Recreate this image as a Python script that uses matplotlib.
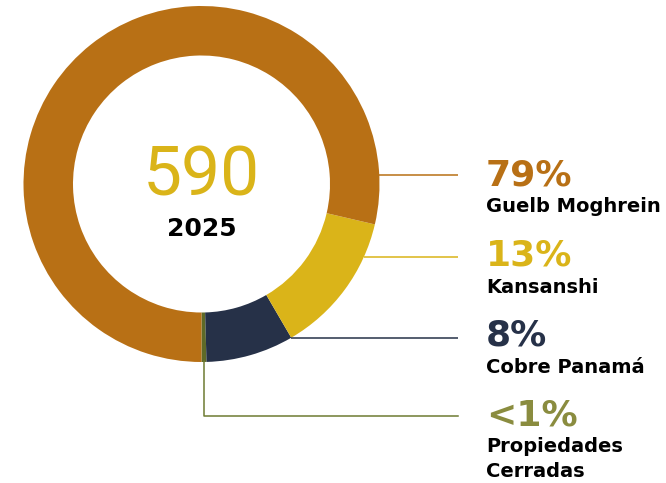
import matplotlib
matplotlib.use("Agg")
import matplotlib.pyplot as plt
import numpy as np

# Data
categories = ["Guelb Moghrein", "Kansanshi", "Cobre Panamá", "Propiedades\nCerradas"]
pct_labels = ["79%", "13%", "8%", "<1%"]
values = [79, 13, 8, 0.45]
total_label = "590"
year_label = "2025"

colors = ["#B87015", "#DAB419", "#263148", "#5E6A28"]
text_colors = ["#B87015", "#DAB419", "#263148", "#8A8C3F"]
line_colors = ["#B87015", "#DAB419", "#263148", "#6E7A32"]

W, H = 666, 483
fig = plt.figure(figsize=(W / 100, H / 100), dpi=100)
ax = fig.add_axes([0, 0, 1, 1])

cx, cy_pix = 201.5, 184
R, r_in = 178, 128.5
cy = H - cy_pix

# pie drawn in order: olive, navy, yellow, brown counterclockwise from bottom
order = [3, 2, 1, 0]
ax.pie([values[i] for i in order], colors=[colors[i] for i in order],
       radius=R, center=(cx, cy), startangle=-90, counterclock=True,
       wedgeprops=dict(width=R - r_in, edgecolor="none", linewidth=0),
       frame=True)

ax.set_xlim(0, W)
ax.set_ylim(0, H)
ax.set_aspect("equal")
ax.axis("off")

# center text
ax.text(cx, H - 196, total_label, ha="center", va="baseline", fontsize=50,
        color="#DAB419", family="Roboto", fontweight="normal")
ax.text(cx, H - 236, year_label, ha="center", va="baseline", fontsize=18,
        color="black", family="DejaVu Sans", fontweight="bold")

# leader lines
x_end = 458
line_y = [175, 257, 338]
for yl, c in zip(line_y, line_colors[:3]):
    dy = yl - cy_pix
    xs = cx + np.sqrt(R ** 2 - dy ** 2)
    ax.plot([xs, x_end], [H - yl, H - yl], color=c, lw=1.1, solid_capstyle="butt")
# olive elbow
ox = 204
ax.plot([ox, ox, x_end], [H - (cy_pix + R - 1), H - 416, H - 416],
        color=line_colors[3], lw=1.1)

# labels
x_txt = 486
pct_base = [185, 266, 345, 425]
name_base = [212, 293, 373, 452]
line_step = 25
for i in range(4):
    ax.text(x_txt, H - pct_base[i], pct_labels[i], ha="left", va="baseline",
            fontsize=26, fontweight="bold", color=text_colors[i],
            family="DejaVu Sans")
    for j, part in enumerate(categories[i].split("\n")):
        ax.text(x_txt, H - name_base[i] - j * line_step, part, ha="left",
                va="baseline", fontsize=14, fontweight="bold", color="black",
                family="DejaVu Sans")

fig.savefig("out.png", dpi=100)
